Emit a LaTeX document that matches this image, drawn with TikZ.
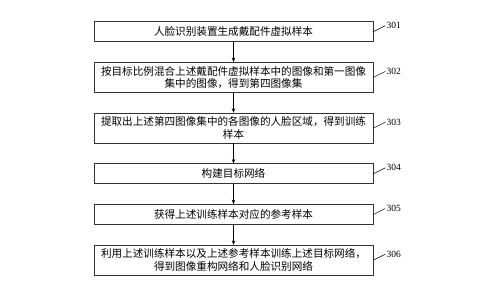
\documentclass[tikz,border=0pt]{standalone}
\usepackage{fontspec}
\setmainfont{Noto Sans CJK SC}
\newfontfamily\numfont{Liberation Serif}
\usepackage{tikz}
\usetikzlibrary{arrows.meta, positioning}

\begin{document}
\begin{tikzpicture}[node distance=20pt, x=1pt, y=1pt]
    \useasboundingbox (0,0) rectangle (500,-287);
    \tikzstyle{passo} = [rectangle, minimum width=279pt, minimum height=20pt,
        text width=275pt, inner sep=2pt, align=center, draw=black!80,
        line width=0.7pt, font=\fontsize{10.6}{12.6}\selectfont]
    \tikzstyle{seta} = [line width=0.7pt, -{Stealth[length=4.5pt, width=3.5pt]}]
    \tikzstyle{ref} = [anchor=west, inner sep=1pt, font=\numfont\fontsize{9.5}{10}\selectfont]
    \tikzstyle{guia} = [line width=0.5pt]

    \node (s301) [passo] at (233.5,-31.7) {人脸识别装置生成戴配件虚拟样本};
    \node (s302) [passo, minimum height=30pt, below=of s301]
        {按目标比例混合上述戴配件虚拟样本中的图像和第一图像\\集中的图像，得到第四图像集};
    \node (s303) [passo, minimum height=30pt, below=of s302]
        {提取出上述第四图像集中的各图像的人脸区域，得到训练\\样本};
    \node (s304) [passo, below=of s303] {构建目标网络};
    \node (s305) [passo, below=of s304] {获得上述训练样本对应的参考样本};
    \node (s306) [passo, minimum height=30pt, below=of s305]
        {利用上述训练样本以及上述参考样本训练上述目标网络，\\得到图像重构网络和人脸识别网络};

    \draw [seta] (s301) -- (s302);
    \draw [seta] (s302) -- (s303);
    \draw [seta] (s303) -- (s304);
    \draw [seta] (s304) -- (s305);
    \draw [seta] (s305) -- (s306);

    % números de referência à direita de cada caixa
    \foreach \n in {301,...,306} {
        \node (r\n) [ref] at ([shift={(12,6)}]s\n.east) {\n};
        \draw [guia] (s\n.east) -- (r\n.west);
    }
\end{tikzpicture}
\end{document}
